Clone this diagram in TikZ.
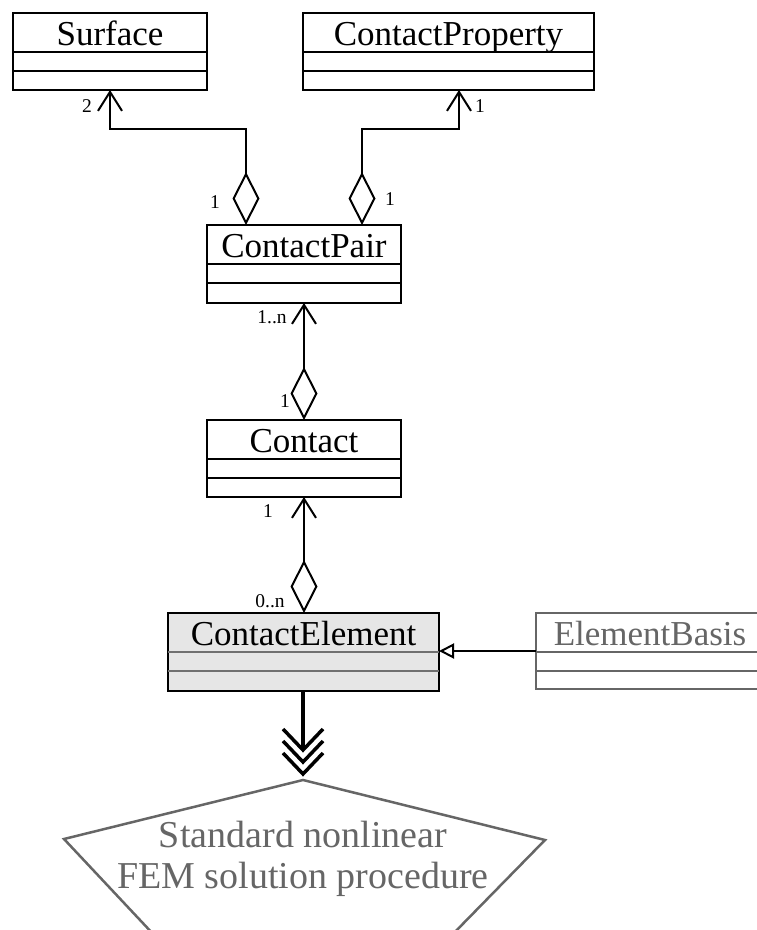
\documentclass[tikz,border=0pt]{standalone}
\usepackage{fontspec}
\setmainfont{Liberation Serif}
\usetikzlibrary{arrows.meta}
\definecolor{fgray}{HTML}{666666}
\definecolor{dgray}{HTML}{707070}
\definecolor{cefill}{HTML}{E6E6E6}
\tikzset{
  classbox/.style={draw, line width=2pt, inner sep=0pt, outer sep=0pt},
  titletext/.style={anchor=base, inner sep=0pt, font=\fontsize{35}{40}\selectfont},
  mult/.style={anchor=base, inner sep=0pt, font=\fontsize{19.5}{23}\selectfont},
  assoc/.style={line width=2pt, {Diamond[open,length=53pt,width=27pt]}-{Straight Barb[length=19pt,width=24pt]}},
  femtext/.style={anchor=base, inner sep=0pt, text=fgray, font=\fontsize{38}{44}\selectfont},
}
% name, center, width, height, text, border/text colour, fill, divider colour
\newcommand\umlcls[8]{%
  \node[classbox, draw=#6, fill=#7, minimum width=#3, minimum height=#4] (#1) at #2 {};
  \draw[line width=2pt, #8] ([yshift=-39pt]#1.north west) -- ([yshift=-39pt]#1.north east);
  \draw[line width=2pt, #8] ([yshift=-58pt]#1.north west) -- ([yshift=-58pt]#1.north east);
  \node[titletext, text=#6] (#1t) at ([yshift=-32pt]#1.north) {#5};
}
\begin{document}
\begin{tikzpicture}[x=1pt,y=-1pt]
\useasboundingbox (0,0) rectangle (757,930);
\clip (0,0) rectangle (757,930);

\umlcls{surf}{(110,51.5)}{194pt}{77pt}{Surface}{black}{white}{black}
\umlcls{cprop}{(448.5,51.5)}{291pt}{77pt}{ContactProperty}{black}{white}{black}
\umlcls{cp}{(304,264)}{194pt}{78pt}{ContactPair}{black}{white}{black}
\umlcls{contact}{(304,458.5)}{194pt}{77pt}{Contact}{black}{white}{black}
\umlcls{ce}{(303.5,652)}{271pt}{78pt}{ContactElement}{black}{cefill}{dgray}
\umlcls{eb}{(650,651)}{228pt}{76pt}{ElementBasis}{fgray}{white}{fgray}

% associations
\draw[assoc] ([xshift=-58pt]cp.north) -- ++(0,-96) -| (surf.south);
\draw[assoc] ([xshift=58pt]cp.north) -- ++(0,-96) -| ([xshift=10.5pt]cprop.south);
\draw[assoc] (contact.north) -- (contact.north |- cp.south);
\draw[assoc] (ce.north -| contact.north) -- (contact.south);

% generalisation
\draw[line width=2pt, -{Triangle[open,length=15pt,width=15pt]}] (eb.west) -- (eb.west -| ce.east);

% multiplicities
\node[mult] (m1) at (87,112) {2};
\node[mult] (m2) at (215,208) {1};
\node[mult] (m3) at (480,112) {1};
\node[mult] (m4) at (390,205) {1};
\node[mult] (m5) at (272,323) {1..n};
\node[mult] (m6) at (285,407) {1};
\node[mult] (m7) at (268,517) {1};
\node[mult] (m8) at (270,607) {0..n};

% FEM procedure pentagon
\coordinate (fa) at (303,780);
\draw[fgray, line width=2.5pt, line join=miter] (fa) -- (64,839) -- (155,936) -- (451,936) -- (545,840) -- cycle;
\node[femtext] (fem1) at (303,847) {Standard nonlinear};
\node[femtext] (fem2) at (303,888) {FEM solution procedure};

% triple chevron flow
\draw[line width=4pt] (ce.south -| fa) -- ([yshift=30pt]fa);
\foreach \d in {30,18,6}{
  \draw[line width=3.5pt, line join=miter] ([shift={(-20,-\d-21)}]fa) -- ([shift={(0,-\d)}]fa) -- ([shift={(20,-\d-21)}]fa);
}
\end{tikzpicture}
\end{document}
